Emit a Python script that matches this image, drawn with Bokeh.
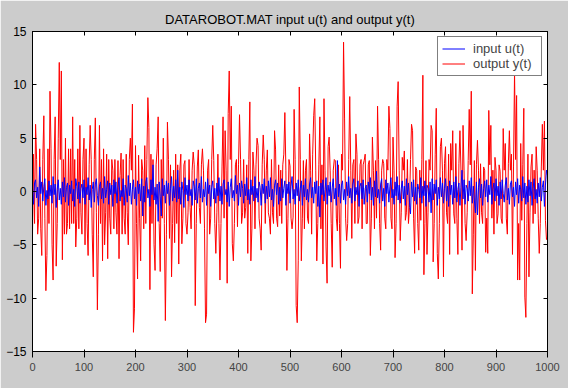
from bokeh.plotting import figure
from bokeh.models import (Range1d, LinearAxis, FixedTicker, Legend, LegendItem,
                          CustomLabelingPolicy)
from bokeh.embed import file_html
from bokeh.resources import INLINE

title_text = "DATAROBOT.MAT input u(t) and output y(t)"
label_u = "input u(t)"
label_y = "output y(t)"
x_ticks = [0, 100, 200, 300, 400, 500, 600, 700, 800, 900, 1000]
y_ticks = [-15, -10, -5, 0, 5, 10, 15]

# samples every 2 time steps (t = 0, 2, 4, ... 1000)
y_output = [
    -4.0, 3.5, -3.0, 6.3, 3.0, -4.0, -2.5, 4.0, -3.5, -6.0,
    3.0, 7.1, -2.5, -9.3, -6.0, 4.0, -3.0, 9.4, 4.0, -5.0,
    -8.3, 3.0, 7.0, -7.0, -3.0, 5.0, 12.1, 3.0, 11.3, -6.4,
    3.0, -4.0, 5.0, -4.0, -3.0, 4.0, -3.5, 4.0, -3.0, 7.0,
    -3.0, 3.0, -5.2, -2.5, 4.0, -3.5, 6.2, -2.0, -4.0, 3.0,
    5.0, -5.0, 4.0, -3.0, -6.0, 2.5, 6.2, 3.0, -4.0, -8.0,
    3.0, 6.9, -2.0, -11.1, -4.0, 6.2, -3.0, 3.0, -6.5, 4.0,
    -5.0, -2.0, 3.5, -6.3, 3.0, -2.5, -4.0, 3.0, 2.0, -3.5,
    3.0, -2.0, -4.0, 2.9, -6.3, 1.5, 3.6, -4.0, 3.0, -2.5,
    -4.0, 3.5, -2.0, -5.0, 3.0, 5.0, 2.0, 8.2, -13.2, -11.0,
    4.3, -3.0, -8.2, 3.4, -2.5, -6.5, 3.0, 2.0, -3.5, 4.3,
    -3.0, 3.0, 8.8, 6.0, -9.2, 3.5, -3.0, 3.0, -5.0, -7.4,
    2.5, 4.0, 7.0, -3.0, -7.5, 3.0, -2.5, 5.0, -3.0, -12.1,
    -4.0, 6.5, 3.0, -4.4, 2.5, -8.0, -3.0, 2.0, -4.8, 3.5,
    -3.0, 2.5, -6.8, 2.0, 3.5, -4.9, -2.5, 2.5, 2.9, -3.0,
    -4.0, -2.0, 3.0, -1.5, -3.5, 2.0, 3.7, 2.5, -10.7, -3.0,
    2.3, 3.9, -1.5, -3.0, 2.5, 4.0, 2.0, -3.5, -12.3, -11.5,
    2.0, 3.0, -4.0, -2.5, 3.0, 6.2, 2.9, -3.0, -5.8, -2.0,
    3.5, -3.0, -8.3, -3.0, 2.3, 7.0, -2.5, 5.7, 2.0, -8.6,
    7.3, 11.3, 3.0, 8.0, -4.9, -6.5, -3.0, 2.5, 3.0, -3.3,
    2.5, 7.2, 3.0, -3.0, -2.0, 3.0, -2.5, -1.5, 2.5, -5.8,
    3.0, 8.4, -6.5, -3.5, 3.7, 2.0, -3.5, 2.5, 5.0, 4.3,
    -2.5, -3.5, -5.5, 2.5, 5.3, 3.0, -3.0, 2.0, 3.9, -2.0,
    -2.5, -4.0, 3.0, -2.0, -3.0, 5.7, 3.9, -2.5, -3.3, 2.5,
    -2.3, 2.0, -3.0, 2.5, 3.5, 7.4, 2.0, -7.4, -2.5, 3.0,
    2.4, -2.5, -3.5, -2.4, 7.7, 3.0, -10.7, -12.3, -6.5, 9.8,
    3.0, -6.5, -2.5, 2.9, -3.5, 2.0, 3.0, -2.5, -3.0, 5.4,
    2.0, -4.0, 3.5, 7.1, 8.7, 2.0, -6.5, -3.0, 2.5, 7.0,
    -3.5, 2.5, -6.8, 8.7, 2.0, -5.2, -8.6, 4.2, 5.1, 2.0,
    -3.0, -7.1, 2.0, 3.0, 2.9, -2.5, -3.7, 2.5, -3.0, -7.2,
    3.5, 2.0, 14.0, 6.8, -2.5, -4.6, -3.0, 3.0, 8.9, 2.0,
    -4.4, 2.5, 3.0, -3.0, 5.4, 3.5, -3.0, -2.4, 2.5, 3.0,
    -3.5, 2.5, 2.9, 3.5, -3.0, -3.0, 2.5, 2.9, -6.0, -2.5,
    5.1, 2.0, -3.5, 2.9, -2.5, 8.0, 3.0, -3.0, -5.5, 2.0,
    3.0, 2.6, -2.5, -3.5, 3.0, 2.0, 8.0, 5.9, -2.5, -3.5,
    5.1, 2.0, -6.2, -3.0, 8.0, 10.3, 2.0, -4.6, -2.0, 3.2,
    2.0, 3.8, -2.7, -2.0, 3.0, -3.0, -1.5, 3.0, 6.3, 5.7,
    -2.5, -5.8, 2.3, 2.0, -3.0, -5.5, 2.0, -2.7, 3.0, 10.9,
    -7.8, -3.0, 2.9, -5.9, -2.0, 3.0, 2.0, 6.2, 5.7, -6.6,
    -3.0, 3.5, 7.8, -5.8, -8.2, -3.0, 4.2, 5.0, 2.0, -8.0,
    2.6, 4.2, -2.0, -3.0, 3.5, -5.9, 4.5, 2.0, 5.7, -2.1,
    -3.0, 4.5, -2.5, -5.9, 2.6, 5.7, 2.0, -5.5, 6.2, 2.0,
    -3.0, -4.6, -2.0, 2.9, 7.7, 2.5, 9.4, -9.6, -4.0, 2.9,
    -7.4, 2.5, 4.8, 2.0, -3.0, 2.6, -2.0, -3.0, 2.3, 2.0,
    -5.7, -2.5, -5.8, 7.6, 2.5, 6.2, -2.5, 2.0, -4.0, 3.2,
    2.0, -3.0, -2.1, 2.5, 1.9, -2.5, -3.0, 5.9, 2.0, 4.5,
    -2.5, -4.0, 2.6, 5.7, 2.0, 3.5, -5.9, 2.3, 11.2, 3.0,
    9.0, -8.3, -3.0, -8.3, 4.5, -2.7, 2.5, 7.8, -9.9, -11.8,
    -3.0, 3.5, -8.0, -2.0, 2.3, 3.5, -3.0, 2.0, -2.1, 4.2,
    2.0, -2.5, -5.8, -3.0, 2.3, 6.3, 2.0, 6.6, -2.7, -4.5,
    -4.3,
]

u_input = [
    0.3, -1.2, 0.8, 1.1, -0.6, 0.4, -1.4, 2.3, -0.2, 0.9,
    -0.9, 0.5, 1.2, -1.3, 0.1, -0.7, 1.0, -0.4, 0.6, -1.1,
    1.4, -0.3, 0.7, -1.5, 0.2, 1.1, -0.8, 0.3, -1.2, 0.9,
    -0.5, 1.3, -1.0, 0.4, 0.8, -1.3, 0.6, -0.2, 1.0, -0.9,
    0.2, -1.4, 1.2, 0.5, -0.7, 0.9, -1.1, 0.3, 0.7, -0.6,
    1.1, -1.2, 0.4, -0.3, 1.3, -0.8, 0.6, -1.5, 0.2, 0.9,
    -1.0, 0.7, 1.2, -0.4, -1.3, 0.5, 0.9, -0.7, 0.3, -1.1,
    1.4, -0.6, 0.2, 1.0, -1.2, 0.8, -0.3, 0.6, -1.4, 1.1,
    -0.2, 0.9, -1.1, 0.4, 1.3, -0.9, 0.1, -0.5, 1.2, -1.3,
    0.6, 0.3, -1.0, 1.5, -0.4, 0.8, -1.2, 0.2, 1.1, -0.7,
    0.4, -1.3, 1.0, -0.2, 0.7, -0.9, 1.2, -2.3, 0.5, -1.0,
    0.9, 1.3, -0.6, 0.2, -1.4, 1.1, -0.3, 2.5, -0.8, 0.4,
    -1.2, 0.7, -2.8, 0.9, -0.5, -2.3, 1.2, -0.4, 0.6, -1.1,
    1.0, -0.2, 0.8, -1.3, 0.3, 1.4, -0.9, 0.5, -0.6, 1.1,
    -1.0, 2.0, -0.7, 0.4, -1.2, 0.9, 0.1, -1.5, 1.3, -0.3,
    0.6, -0.9, 1.1, -0.4, 0.2, -1.3, 1.0, 0.5, -0.8, 1.2,
    -1.1, 0.3, 0.8, -0.6, 1.4, -1.0, 0.2, -0.5, 0.9, -1.3,
    1.2, -0.2, 0.6, -1.4, 0.4, 1.0, -0.7, 0.3, -1.1, 0.8,
    -0.4, 1.3, -0.9, 0.5, -1.2, 0.7, 1.1, -0.3, 0.2, -1.0,
    0.9, -1.4, 0.4, 1.2, -0.6, 0.1, -0.9, 1.5, -0.2, 0.6,
    -1.3, 0.8, -0.5, 1.0, 0.3, -1.1, 0.7, -0.4, 1.3, -0.8,
    0.2, -1.2, 1.1, -0.3, 0.5, -0.9, 1.4, -0.6, 0.3, -1.0,
    0.9, 0.4, -1.3, 0.7, -0.2, 1.2, -1.1, 0.5, -0.7, 1.0,
    -0.5, 1.3, -0.8, 0.2, -1.4, 0.6, 1.1, -0.3, 0.8, -1.2,
    0.4, -0.9, 1.2, -0.6, 0.3, 1.0, -1.3, 0.7, -0.2, 0.9,
    -1.1, 0.5, 1.4, -0.7, 0.2, -1.2, 0.8, -0.4, 1.1, -0.9,
    0.3, 1.0, -1.3, 0.6, -0.5, 1.2, -0.8, 0.2, -1.0, 0.7,
    1.3, -0.6, 0.4, -1.1, 0.9, -0.2, 1.0, -1.4, 0.5, -2.4,
    0.8, -0.3, 1.1, -0.9, 0.2, 1.3, -1.2, 0.6, -0.4, 0.9,
    -1.0, 0.4, 1.2, -0.7, 0.3, -1.3, 2.9, -0.5, 0.7, -1.1,
    0.6, 1.0, -0.8, 0.2, -1.2, 0.9, -0.4, 1.4, -0.6, 0.3,
    -1.1, 0.7, 1.2, -0.9, 0.4, -0.3, 1.0, -1.4, 0.5, 0.8,
    -0.7, 1.1, -1.2, 0.3, 0.6, -1.0, 0.9, -0.2, 1.3, -0.8,
    0.4, -1.3, 1.0, -0.5, 1.9, -0.6, 0.2, -1.1, 0.7, 1.2,
    -0.9, 0.3, -1.4, 1.1, -0.2, 0.8, -1.0, 0.5, 1.3, -0.6,
    0.2, -1.2, 0.9, -0.4, 1.4, -0.8, 0.6, -1.1, 0.3, 1.0,
    -0.7, 0.5, -1.3, 1.2, -0.3, 0.8, -1.0, -2.1, 0.9, -0.5,
    1.1, -0.9, 0.4, -1.2, 0.7, 0.2, -0.6, 1.3, -1.1, 0.5,
    -0.4, 1.0, -1.4, 0.6, 0.3, -1.0, 0.9, -2.0, 1.2, -0.8,
    0.7, -0.2, 1.1, -1.3, 0.4, -0.7, 1.3, -0.5, 0.8, -1.1,
    0.3, 1.2, -0.9, 0.5, -1.4, 1.0, -0.3, 0.6, -1.2, 0.9,
    -0.6, 1.4, -1.0, 0.2, 0.8, -1.3, 0.4, 2.0, -0.7, 1.1,
    -1.2, 0.6, 0.3, -0.9, 1.0, -0.4, 1.3, -1.1, 0.5, -0.8,
    -2.0, 0.9, -2.2, 0.4, 1.2, -0.6, 0.7, -1.3, 0.3, 1.0,
    -0.5, 1.1, -1.0, 0.6, -0.3, 1.4, -1.2, 0.2, 0.8, -0.9,
    1.2, -0.4, 0.5, -1.3, 0.9, -0.7, 1.1, -0.2, -1.0, 0.6,
    1.3, -0.8, 0.3, -1.2, 0.7, 1.0, -0.5, 0.4, -1.4, 0.9,
    -0.3, 1.2, -1.1, 0.6, 0.2, -0.9, 1.4, -0.6, 0.8, -1.2,
    0.5, -1.0, 1.1, -0.4, 0.9, -1.3, 0.3, 1.2, -0.7, 0.2,
    -1.1, 0.8, -0.5, 1.3, -0.9, 0.4, 1.0, -1.4, 0.6, 2.0,
    1.5,
]

t = list(range(0, 2 * len(y_output), 2))

FONT = "Liberation Sans"
BG = "#CCCCCC"

p = figure(width=568, height=388, output_backend="svg", toolbar_location=None,
           x_range=Range1d(x_ticks[0], x_ticks[-1]),
           y_range=Range1d(y_ticks[0], y_ticks[-1]),
           min_border_left=32, min_border_right=21,
           min_border_top=31, min_border_bottom=37,
           background_fill_color="white", border_fill_color=BG,
           outline_line_color="black", title=title_text)

p.title.align = "center"
p.title.text_font = FONT
p.title.text_font_size = "13px"
p.title.text_font_style = "normal"
p.title.text_color = "black"
p.title.standoff = 10

p.xgrid.grid_line_color = None
p.ygrid.grid_line_color = None

p.xaxis.ticker = FixedTicker(ticks=x_ticks)
p.yaxis.ticker = FixedTicker(ticks=y_ticks)

no_labels = CustomLabelingPolicy(code="return new Set()")
top_axis = LinearAxis(ticker=FixedTicker(ticks=x_ticks), major_label_policy=no_labels)
right_axis = LinearAxis(ticker=FixedTicker(ticks=y_ticks), major_label_policy=no_labels)
p.add_layout(top_axis, "above")
p.add_layout(right_axis, "right")

for ax in [p.xaxis[0], p.yaxis[0], top_axis, right_axis]:
    ax.major_tick_in = 4
    ax.major_tick_out = 0
    ax.minor_tick_line_color = None
    ax.axis_line_color = "black"
    ax.major_tick_line_color = "black"
    ax.major_label_text_font = FONT
    ax.major_label_text_font_size = "12px"
    ax.major_label_text_color = "black"

p.xaxis[0].major_label_standoff = 3
p.yaxis[0].major_label_standoff = 6
for ax in [top_axis, right_axis]:
    ax.major_label_text_font_size = "0px"
    ax.major_label_standoff = 0

# output drawn first, input on top of it
r_y = p.line(t, y_output, line_color="#FF0000", line_width=1)
r_u = p.line(t, u_input, line_color="#0000FF", line_width=1)

legend = Legend(items=[LegendItem(label=label_u, renderers=[r_u]),
                       LegendItem(label=label_y, renderers=[r_y])],
                location="top_right", margin=5, padding=4, spacing=0,
                label_text_font=FONT, label_text_font_size="13px",
                label_height=15, glyph_height=15, glyph_width=23,
                label_standoff=8, label_width=64,
                border_line_color="black", border_line_width=1,
                background_fill_color="white", background_fill_alpha=1.0)
p.add_layout(legend)

open("out.html", "w").write(file_html(p, INLINE))
